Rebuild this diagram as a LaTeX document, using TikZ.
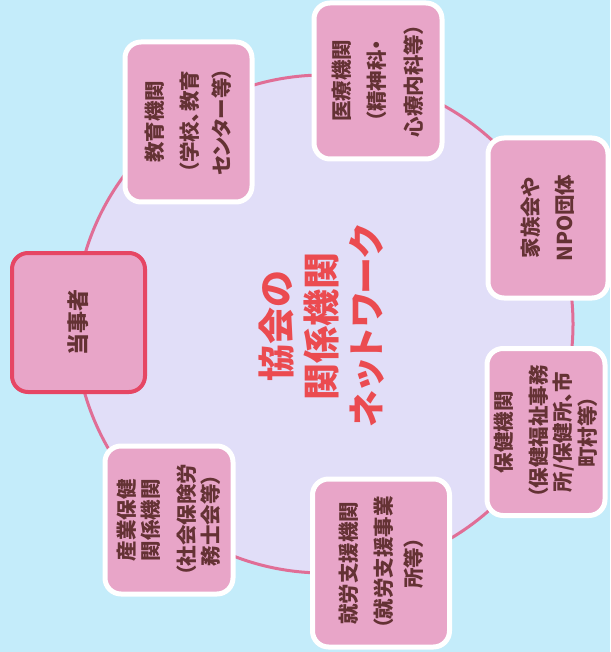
\documentclass[tikz,border=0pt]{standalone}
\usepackage{fontspec}
\newfontfamily\jp[RawFeature=+palt]{Noto Sans CJK JP}
\definecolor{bgblue}{RGB}{196,236,250}
\definecolor{ringfill}{RGB}{225,222,248}
\definecolor{ringline}{RGB}{224,110,150}
\definecolor{boxpink}{RGB}{232,165,200}
\definecolor{txtbrown}{RGB}{100,50,52}
\definecolor{centerred}{RGB}{235,75,80}
\definecolor{selfred}{RGB}{230,70,100}
\begin{document}
\begin{tikzpicture}[x=1pt,y=-1pt,
  box/.style={draw=white, line width=5pt, fill=boxpink, rounded corners=16pt,
    rotate=90, align=center, text=txtbrown, inner sep=0pt,
    font=\jp\bfseries\fontsize{20.5}{25}\selectfont},
  selfbox/.style={box, draw=selfred, line width=4pt,
    font=\jp\bfseries\fontsize{22}{26}\selectfont},
  ring/.style={draw=ringline, line width=3pt, fill=ringfill},
  title/.style={rotate=90, align=center, text=centerred, inner sep=0pt,
    font=\jp\bfseries\fontsize{37}{45}\selectfont}]
\fill[bgblue] (0,0) rectangle (610,652);
\useasboundingbox (0,0) rectangle (610,652);
\node[ring, circle, minimum size=498pt, inner sep=0pt] (ringc) at (324,324) {};
\node[title] (center) at (322,326) {協会の\\関係機関\\ネットワーク};
\node[selfbox, minimum width=139pt, minimum height=133pt] (self) at (78.5,322.5) {当事者};
\node[box, minimum width=160pt, minimum height=127pt] (edu) at (188.5,122)
  {教育機関\\[10pt]（学校、教育\\[7pt]センター等）};
\node[box, minimum width=156pt, minimum height=128pt] (med) at (378,81)
  {医療機関\\[10pt]（精神科・\\[12pt]心療内科等）};
\node[box, minimum width=160pt, minimum height=120pt] (fam) at (548,218)
  {家族会や\\[9pt]NPO団体};
\node[box, minimum width=167pt, minimum height=118pt, font=\jp\bfseries\fontsize{20.5}{24}\selectfont] (hlth) at (546,432)
  {保健機関\\[11pt]（保健福祉事務\\所/保健所、市\\[1pt]町村等）};
\node[box, minimum width=168pt, minimum height=137pt] (work) at (381,563)
  {就労支援機関\\[10pt]（就労支援事業\\[5pt]所等）};
\node[box, minimum width=148pt, minimum height=128pt, font=\jp\bfseries\fontsize{20.5}{24.5}\selectfont] (ind) at (169,520)
  {産業保健\\関係機関\\[11pt]（社会保険労\\務士会等）};
\end{tikzpicture}
\end{document}
